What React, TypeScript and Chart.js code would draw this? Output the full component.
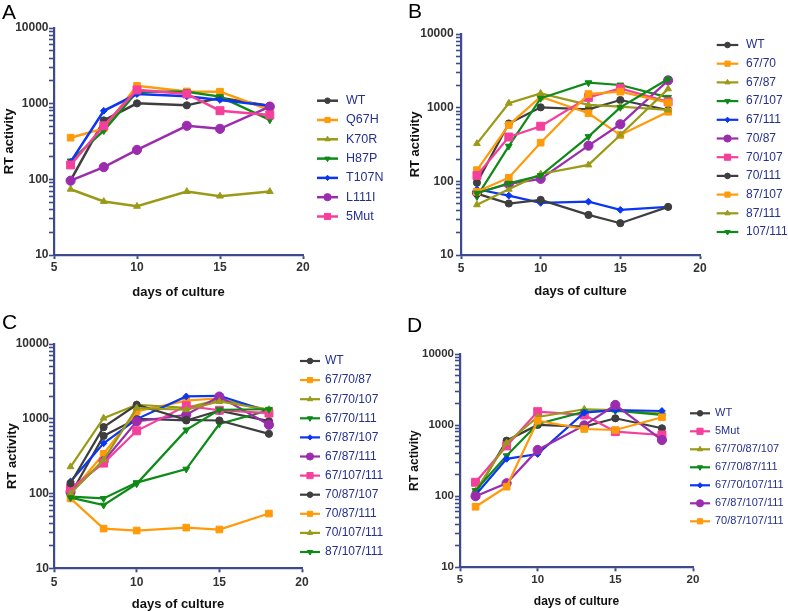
import React, { useEffect, useRef } from 'react';
import { Chart, registerables } from 'chart.js';

Chart.register(...registerables);

const FONT = "'Liberation Sans', Arial, Helvetica, sans-serif";
const AXIS = '#3d4b8e';
const LEGEND_TEXT = '#25308f';

// ---------- shared axes ----------
const days = [6, 8, 10, 13, 15, 18];
const xTickValues = [5, 10, 15, 20];
const yTickValues = [
  10, 20, 30, 40, 50, 60, 70, 80, 90,
  100, 200, 300, 400, 500, 600, 700, 800, 900,
  1000, 2000, 3000, 4000, 5000, 6000, 7000, 8000, 9000,
  10000,
];
const yLabelValues = [10, 100, 1000, 10000];
const xTitle = 'days of culture';
const yTitle = 'RT activity';

// ---------- Panel A ----------
const labelsA = ['WT', 'Q67H', 'K70R', 'H87P', 'T107N', 'L111I', '5Mut'];
const a_WT = [97, 600, 1010, 950, 1200, 930];
const a_Q67H = [355, 472, 1720, 1450, 1440, 825];
const a_K70R = [74, 51, 44, 69, 60, 69];
const a_H87P = [175, 440, 1440, 1440, 1240, 610];
const a_T107N = [170, 805, 1340, 1250, 1120, 940];
const a_L111I = [96, 145, 245, 510, 465, 915];
const a_5Mut = [155, 510, 1520, 1345, 808, 710];

// ---------- Panel B ----------
const labelsB = ['WT', '67/70', '67/87', '67/107', '67/111', '70/87', '70/107', '70/111', '87/107', '87/111', '107/111'];
const b_WT = [96, 610, 1010, 950, 1270, 930];
const b_67_70 = [142, 580, 1410, 840, 425, 880];
const b_67_87 = [325, 1150, 1560, 1090, 1030, 930];
const b_67_107 = [62, 300, 1340, 2180, 2030, 1380];
const b_67_111 = [78, 64, 51, 53, 41, 45];
const b_70_87 = [70, 92, 108, 305, 595, 2350];
const b_70_107 = [120, 400, 560, 1380, 1830, 1200];
const b_70_111 = [68, 50, 56, 35, 27, 45];
const b_87_107 = [72, 112, 335, 1530, 1650, 1170];
const b_87_111 = [48, 78, 126, 167, 425, 1800];
const b_107_111 = [69, 94, 120, 405, 1010, 2450];

// ---------- Panel C ----------
const labelsC = ['WT', '67/70/87', '67/70/107', '67/70/111', '67/87/107', '67/87/111', '67/107/111', '70/87/107', '70/87/111', '70/107/111', '87/107/111'];
const c_WT = [97, 590, 1000, 950, 1280, 930];
const c_67_70_87 = [100, 340, 1250, 1750, 1880, 1250];
const c_67_70_107 = [228, 1020, 1540, 1400, 1800, 1320];
const c_67_70_111 = [91, 86, 140, 212, 850, 1300];
const c_67_87_107 = [145, 470, 990, 1990, 2030, 1250];
const c_67_87_111 = [105, 270, 920, 1130, 1980, 830];
const c_67_107_111 = [117, 255, 690, 1490, 1300, 1190];
const c_70_87_107 = [137, 773, 1540, 968, 948, 629];
const c_70_87_111 = [86, 34, 32, 35, 33, 54];
const c_70_107_111 = [100, 282, 1390, 1320, 1700, 1320];
const c_87_107_111 = [88, 70, 135, 710, 1320, 1340];

// ---------- Panel D ----------
const labelsD = ['WT', '5Mut', '67/70/87/107', '67/70/87/111', '67/70/107/111', '67/87/107/111', '70/87/107/111'];
const d_WT = [110, 604, 1004, 951, 1247, 902];
const d_5Mut = [157, 509, 1547, 1390, 809, 726];
const d_67_70_87_107 = [118, 560, 1300, 1670, 1620, 1450];
const d_67_70_87_111 = [120, 370, 1040, 1540, 1600, 1390];
const d_67_70_107_111 = [104, 335, 392, 1495, 1630, 1580];
const d_67_87_107_111 = [100, 152, 447, 990, 1920, 617];
const d_70_87_107_111 = [71, 136, 1150, 881, 853, 1288];

type StyleKey = 'gray' | 'orange' | 'olive' | 'green' | 'blue' | 'purple' | 'pink';

const STYLES: Record<StyleKey, { color: string; shape: string; r: number; rot: number }> = {
  gray: { color: '#3e3e3e', shape: 'circle', r: 3.6, rot: 0 },
  orange: { color: '#ff9a0a', shape: 'rect', r: 4.7, rot: 0 },
  olive: { color: '#9a9a18', shape: 'triangle', r: 3.9, rot: 0 },
  green: { color: '#0d8a17', shape: 'triangle', r: 3.9, rot: 180 },
  blue: { color: '#0b36f2', shape: 'rectRot', r: 3.4, rot: 0 },
  purple: { color: '#9b2cad', shape: 'circle', r: 4.6, rot: 0 },
  pink: { color: '#f5409b', shape: 'rect', r: 5.6, rot: 0 },
};

type Series = { label: string; data: number[]; style: StyleKey };

type PanelDef = {
  letter: string;
  left: number; top: number; width: number; height: number;
  area: { l: number; t: number; r: number; b: number };
  padL: number; padB: number;
  titleSize: number; tickSize: number;
  xTickPad: number; yTickPad: number;
  lineWidth: number;
  legend: { x0: number; x1: number; tx: number; y0: number; dy: number; font: number };
  letterX: number; letterY: number;
  series: Series[];
};

const panels: PanelDef[] = [
  {
    letter: 'A', left: 0, top: 0, width: 394, height: 305,
    area: { l: 54, t: 28, r: 303, b: 255 },
    padL: 2.5, padB: 6.5, titleSize: 13, tickSize: 12, xTickPad: 3, yTickPad: 0.5, lineWidth: 2.5,
    legend: { x0: 317, x1: 338, tx: 346, y0: 100.7, dy: 19.3, font: 12.5 },
    letterX: 2, letterY: 19,
    series: [
      { label: labelsA[0], data: a_WT, style: 'gray' },
      { label: labelsA[1], data: a_Q67H, style: 'orange' },
      { label: labelsA[2], data: a_K70R, style: 'olive' },
      { label: labelsA[3], data: a_H87P, style: 'green' },
      { label: labelsA[4], data: a_T107N, style: 'blue' },
      { label: labelsA[5], data: a_L111I, style: 'purple' },
      { label: labelsA[6], data: a_5Mut, style: 'pink' },
    ],
  },
  {
    letter: 'B', left: 394, top: 0, width: 394, height: 305,
    area: { l: 67, t: 34, r: 306, b: 255 },
    padL: 14.5, padB: 7.5, titleSize: 13, tickSize: 12, xTickPad: 4, yTickPad: 2.4, lineWidth: 2.2,
    legend: { x0: 322.7, x1: 344.3, tx: 352, y0: 45, dy: 18.7, font: 12 },
    letterX: 14, letterY: 18,
    series: [
      { label: labelsB[0], data: b_WT, style: 'gray' },
      { label: labelsB[1], data: b_67_70, style: 'orange' },
      { label: labelsB[2], data: b_67_87, style: 'olive' },
      { label: labelsB[3], data: b_67_107, style: 'green' },
      { label: labelsB[4], data: b_67_111, style: 'blue' },
      { label: labelsB[5], data: b_70_87, style: 'purple' },
      { label: labelsB[6], data: b_70_107, style: 'pink' },
      { label: labelsB[7], data: b_70_111, style: 'gray' },
      { label: labelsB[8], data: b_87_107, style: 'orange' },
      { label: labelsB[9], data: b_87_111, style: 'olive' },
      { label: labelsB[10], data: b_107_111, style: 'green' },
    ],
  },
  {
    letter: 'C', left: 0, top: 305, width: 394, height: 306,
    area: { l: 54, t: 39, r: 302, b: 263.3 },
    padL: 6, padB: 0, titleSize: 13, tickSize: 12, xTickPad: 4.7, yTickPad: 0, lineWidth: 2.2,
    legend: { x0: 300, x1: 320, tx: 325, y0: 56, dy: 19.1, font: 12 },
    letterX: 2, letterY: 24,
    series: [
      { label: labelsC[0], data: c_WT, style: 'gray' },
      { label: labelsC[1], data: c_67_70_87, style: 'orange' },
      { label: labelsC[2], data: c_67_70_107, style: 'olive' },
      { label: labelsC[3], data: c_67_70_111, style: 'green' },
      { label: labelsC[4], data: c_67_87_107, style: 'blue' },
      { label: labelsC[5], data: c_67_87_111, style: 'purple' },
      { label: labelsC[6], data: c_67_107_111, style: 'pink' },
      { label: labelsC[7], data: c_70_87_107, style: 'gray' },
      { label: labelsC[8], data: c_70_87_111, style: 'orange' },
      { label: labelsC[9], data: c_70_107_111, style: 'olive' },
      { label: labelsC[10], data: c_87_107_111, style: 'green' },
    ],
  },
  {
    letter: 'D', left: 394, top: 305, width: 394, height: 306,
    area: { l: 66, t: 49, r: 299, b: 262.3 },
    padL: 14.5, padB: 3.3, titleSize: 12, tickSize: 11.5, xTickPad: 3, yTickPad: 1, lineWidth: 2.2,
    legend: { x0: 296, x1: 316, tx: 321, y0: 108.3, dy: 18, font: 11 },
    letterX: 13, letterY: 27,
    series: [
      { label: labelsD[0], data: d_WT, style: 'gray' },
      { label: labelsD[1], data: d_5Mut, style: 'pink' },
      { label: labelsD[2], data: d_67_70_87_107, style: 'olive' },
      { label: labelsD[3], data: d_67_70_87_111, style: 'green' },
      { label: labelsD[4], data: d_67_70_107_111, style: 'blue' },
      { label: labelsD[5], data: d_67_87_107_111, style: 'purple' },
      { label: labelsD[6], data: d_70_87_107_111, style: 'orange' },
    ],
  },
];

function drawMarker(ctx: CanvasRenderingContext2D, shape: string, x: number, y: number, r: number, rot: number, color: string) {
  ctx.save();
  ctx.fillStyle = color;
  ctx.strokeStyle = color;
  ctx.lineWidth = 1;
  ctx.beginPath();
  if (shape === 'circle') {
    ctx.arc(x, y, r, 0, Math.PI * 2);
  } else if (shape === 'rect') {
    const s = r * Math.SQRT1_2;
    ctx.rect(x - s, y - s, 2 * s, 2 * s);
  } else if (shape === 'rectRot') {
    ctx.moveTo(x, y - r);
    ctx.lineTo(x + r, y);
    ctx.lineTo(x, y + r);
    ctx.lineTo(x - r, y);
    ctx.closePath();
  } else {
    let a = (rot * Math.PI) / 180;
    ctx.moveTo(x + Math.sin(a) * r, y - Math.cos(a) * r);
    a += (2 * Math.PI) / 3;
    ctx.lineTo(x + Math.sin(a) * r, y - Math.cos(a) * r);
    a += (2 * Math.PI) / 3;
    ctx.lineTo(x + Math.sin(a) * r, y - Math.cos(a) * r);
    ctx.closePath();
  }
  ctx.fill();
  ctx.stroke();
  ctx.restore();
}

function Panel({ p }: { p: PanelDef }) {
  const ref = useRef<HTMLCanvasElement | null>(null);

  useEffect(() => {
    if (!ref.current) return;
    const n = p.series.length;
    const datasets = p.series.map((s, i) => {
      const st = STYLES[s.style];
      return {
        label: s.label,
        data: s.data.map((v, j) => ({ x: days[j], y: v })),
        borderColor: st.color,
        backgroundColor: st.color,
        borderWidth: p.lineWidth,
        pointStyle: st.shape,
        pointRadius: st.r,
        pointRotation: st.rot,
        pointBackgroundColor: st.color,
        pointBorderColor: st.color,
        pointBorderWidth: 1,
        tension: 0,
        fill: false,
        order: n - i,
      };
    });

    const yW = p.area.l - p.padL;
    const xH = p.height - p.padB - p.area.b;
    const titleFont = { family: FONT, size: p.titleSize, weight: 'bold' as const, lineHeight: 1 };
    const tickFont = { family: FONT, size: p.tickSize, weight: 'bold' as const, lineHeight: 1 };

    const decor = {
      id: 'decor' + p.letter,
      afterDraw(chart: any) {
        const ctx: CanvasRenderingContext2D = chart.ctx;
        ctx.save();
        ctx.font = `21px ${FONT}`;
        ctx.fillStyle = '#000';
        ctx.textAlign = 'left';
        ctx.textBaseline = 'alphabetic';
        ctx.fillText(p.letter, p.letterX, p.letterY);
        p.series.forEach((s, i) => {
          const st = STYLES[s.style];
          const y = p.legend.y0 + i * p.legend.dy;
          ctx.strokeStyle = st.color;
          ctx.lineWidth = p.lineWidth;
          ctx.beginPath();
          ctx.moveTo(p.legend.x0, y);
          ctx.lineTo(p.legend.x1, y);
          ctx.stroke();
          drawMarker(ctx, st.shape, (p.legend.x0 + p.legend.x1) / 2, y, st.r * 0.78, st.rot, st.color);
          ctx.fillStyle = LEGEND_TEXT;
          ctx.font = `${p.legend.font}px ${FONT}`;
          ctx.textAlign = 'left';
          ctx.textBaseline = 'middle';
          ctx.fillText(s.label, p.legend.tx, y);
        });
        ctx.restore();
      },
    };

    const chart = new Chart(ref.current, {
      type: 'line',
      data: { datasets: datasets as any },
      options: {
        animation: false,
        responsive: false,
        devicePixelRatio: 1,
        events: [],
        layout: {
          padding: { left: p.padL, top: p.area.t, right: p.width - p.area.r, bottom: p.padB },
        },
        plugins: { legend: { display: false }, tooltip: { enabled: false }, title: { display: false } },
        scales: {
          x: {
            type: 'linear',
            min: 5,
            max: 20,
            afterBuildTicks: (s: any) => { s.ticks = xTickValues.map((v) => ({ value: v })); },
            afterFit: (s: any) => { s.height = xH; },
            ticks: {
              font: tickFont,
              color: '#333',
              padding: p.xTickPad,
              autoSkip: false,
              maxRotation: 0,
              callback: (v: any) => String(v),
            },
            grid: { display: true, drawOnChartArea: false, drawTicks: true, tickLength: 4, tickColor: AXIS, tickWidth: 2 },
            border: { display: true, color: AXIS, width: 2.2 },
            title: { display: true, text: xTitle, font: titleFont, color: '#111', padding: 0 },
          },
          y: {
            type: 'logarithmic',
            min: 10,
            max: 10000,
            afterBuildTicks: (s: any) => { s.ticks = yTickValues.map((v) => ({ value: v })); },
            afterFit: (s: any) => { s.width = yW; },
            ticks: {
              font: tickFont,
              color: '#333',
              padding: p.yTickPad,
              autoSkip: false,
              callback: (v: any) => (yLabelValues.includes(Number(v)) ? String(v) : ''),
            },
            grid: { display: true, drawOnChartArea: false, drawTicks: true, tickLength: 5, tickColor: AXIS, tickWidth: 1.6 },
            border: { display: true, color: AXIS, width: 2.2 },
            title: { display: true, text: yTitle, font: titleFont, color: '#111', padding: 0 },
          },
        },
      } as any,
      plugins: [decor],
    });
    return () => chart.destroy();
  }, [p]);

  return (
    <canvas
      ref={ref}
      width={p.width}
      height={p.height}
      style={{ position: 'absolute', left: p.left, top: p.top, width: p.width, height: p.height }}
    />
  );
}

export default function App() {
  return (
    <div style={{ position: 'absolute', left: 0, top: 0, width: 788, height: 611, background: '#fff', overflow: 'hidden' }}>
      {panels.map((p) => (
        <Panel key={p.letter} p={p} />
      ))}
    </div>
  );
}
